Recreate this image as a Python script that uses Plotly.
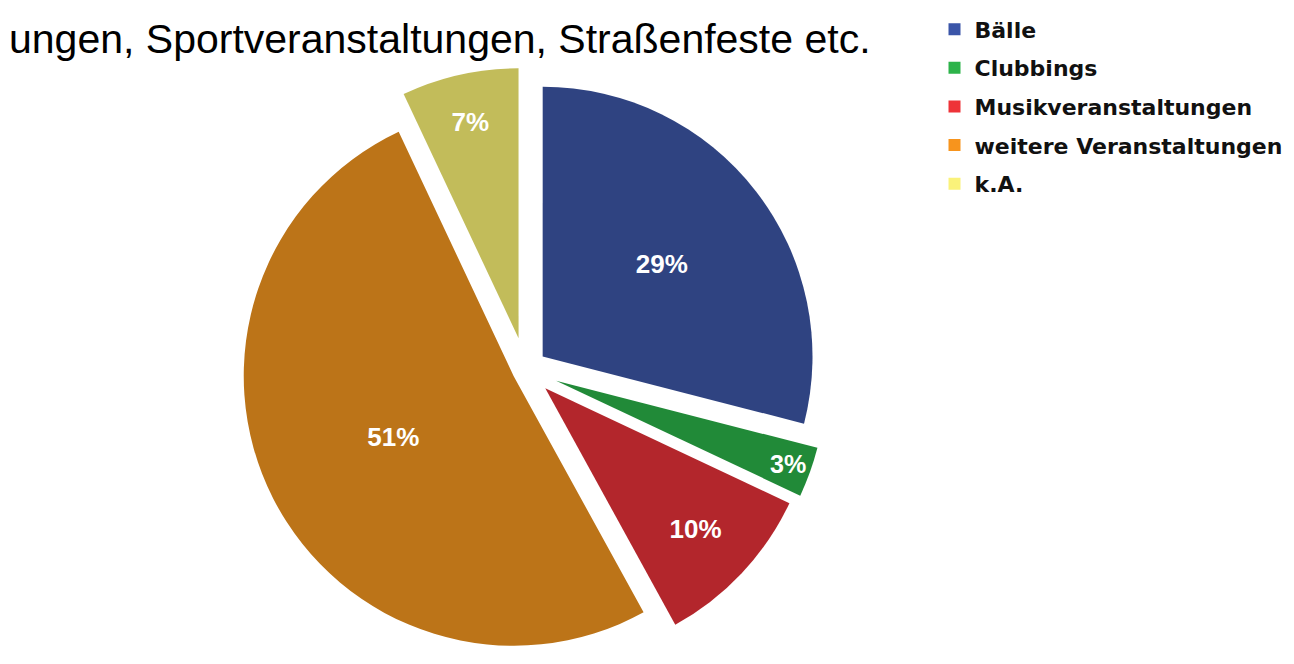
import plotly.graph_objects as go

categories = ["Bälle", "Clubbings", "Musikveranstaltungen", "weitere Veranstaltungen", "k.A."]
values = [29, 3, 10, 51, 7]
slice_colors = ["#2F4381", "#218A38", "#B3262C", "#BC7418", "#C2BC5A"]
legend_colors = ["#3A55A8", "#2DB34A", "#EE3338", "#F7941D", "#FAF27A"]
pulls = [0.08, 0.12, 0.10, 0.05, 0.12]
title_text = "ungen, Sportveranstaltungen, Straßenfeste etc."

fig = go.Figure()
fig.add_trace(go.Pie(
    labels=categories, values=values, sort=False, direction="clockwise", rotation=0,
    marker=dict(colors=slice_colors, line=dict(color="white", width=0)),
    pull=pulls, textinfo="percent", textposition="inside", insidetextorientation="horizontal",
    textfont=dict(family="Liberation Sans, Arial", size=26, color="white", weight="bold"),
    showlegend=False, domain=dict(x=[0.0, 0.8], y=[0.0, 0.92]),
    hoverinfo="label+percent",
))
for i, (name, col) in enumerate(zip(categories, legend_colors)):
    fig.add_trace(go.Scatter(
        x=[None], y=[None], mode="markers", name=name, legendgroup=f"g{i}",
        marker=dict(symbol="square", size=17, color=col),
    ))

fig.update_layout(
    width=1294, height=664,
    margin=dict(l=0, r=0, t=0, b=0),
    paper_bgcolor="white", plot_bgcolor="white",
    xaxis=dict(visible=False), yaxis=dict(visible=False),
    legend=dict(x=0.716, y=1.01, xanchor="left", yanchor="top",
                font=dict(family="DejaVu Sans, Liberation Sans", size=22, color="#111111", weight="bold"),
                itemsizing="constant", tracegroupgap=7, bgcolor="rgba(0,0,0,0)"),
    annotations=[dict(text=title_text, x=0, y=1.0, xref="paper", yref="paper",
                      xanchor="left", yanchor="top", showarrow=False, borderpad=0,
                      font=dict(family="Liberation Sans Narrow, Liberation Sans", size=41, color="black"))],
)
fig.write_html("out.html")
